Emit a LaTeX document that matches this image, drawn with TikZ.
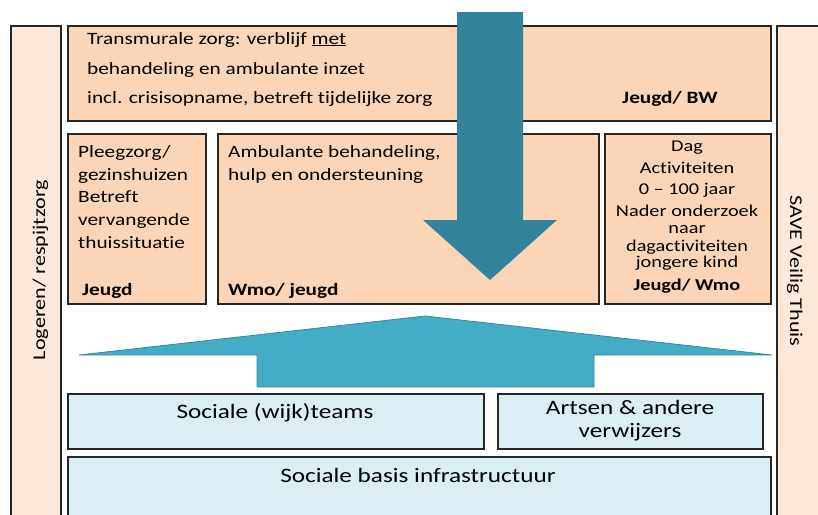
\documentclass[tikz,border=0pt]{standalone}
\usepackage{fontspec}
\setmainfont{Carlito}[FakeStretch=1.23, Ligatures=NoCommon]
\definecolor{peach}{HTML}{FBD5B5}
\definecolor{lightpeach}{HTML}{FDE9D9}
\definecolor{lightblue}{HTML}{DBEEF3}
\definecolor{darkaqua}{HTML}{31849B}
\definecolor{aqua}{HTML}{43ACC7}
\definecolor{aquaedge}{HTML}{35889E}
\begin{document}
\begin{tikzpicture}[x=1pt,y=-1pt,
  box/.style={draw=black!85, line width=1.8pt, rectangle, inner sep=0pt, anchor=north west},
  txt/.style={inner sep=0pt, font=\fontsize{17.3}{20}\selectfont},
  stxt/.style={inner sep=0pt, font=\fontsize{16.5}{18}\selectfont},
  btxt/.style={inner sep=0pt, font=\fontsize{20.5}{24}\selectfont}]
\useasboundingbox (0,0) rectangle (818,514);
\begin{scope}
\clip (0,0) rectangle (818,514);
% side bars
\node[box, fill=lightpeach, minimum width=50pt, minimum height=520pt] (leftbar) at (10,25) {};
\node[box, fill=lightpeach, minimum width=70pt, minimum height=520pt] (rightbar) at (776,25) {};
% top box
\node[box, fill=peach, minimum width=703pt, minimum height=95pt] (top) at (67,25) {};
% middle boxes
\node[box, fill=peach, minimum width=138pt, minimum height=170pt] (m1) at (67,133) {};
\node[box, fill=peach, minimum width=381pt, minimum height=170pt] (m2) at (217,133) {};
\node[box, fill=peach, minimum width=166pt, minimum height=170pt] (m3) at (604,133) {};
% bottom boxes
\node[box, fill=lightblue, minimum width=416pt, minimum height=55pt] (b1) at (67,393) {};
\node[box, fill=lightblue, minimum width=265pt, minimum height=55pt] (b2) at (497,393) {};
\node[box, fill=lightblue, minimum width=703pt, minimum height=80pt] (b3) at (67,456) {};
\end{scope}
% down arrow
\fill[darkaqua] (457,12) -- (523,12) -- (523,220) -- (557,220) -- (490,280) -- (423,220) -- (457,220) -- cycle;
% up arrow
\filldraw[fill=aqua, draw=aquaedge, line width=0.8pt] (425,316) -- (772,355) -- (594,355) -- (594,387) -- (257,387) -- (257,355) -- (79,355) -- cycle;
% texts top
\node[txt, anchor=base west] (t1) at (87,44) {Transmurale zorg: verblijf \underline{met}};
\node[txt, anchor=base west] (t2) at (87,74) {behandeling en ambulante inzet};
\node[txt, anchor=base west] (t3) at (87,103) {incl. crisisopname, betreft tijdelijke zorg};
\node[txt, anchor=base west, font=\fontsize{17.3}{20}\selectfont\bfseries] (t4) at (622,103) {Jeugd/ BW};
% box 1
\node[txt, anchor=base west] (p1) at (78,157) {Pleegzorg/};
\node[txt, anchor=base west] (p2) at (78,180) {gezinshuizen};
\node[txt, anchor=base west] (p3) at (78,202) {Betreft};
\node[txt, anchor=base west] (p4) at (78,225) {vervangende};
\node[txt, anchor=base west] (p5) at (78,248) {thuissituatie};
\node[txt, anchor=base west, font=\fontsize{17.3}{20}\selectfont\bfseries] (p6) at (82,295) {Jeugd};
% box 2
\node[txt, anchor=base west] (a1) at (228,157) {Ambulante behandeling,};
\node[txt, anchor=base west] (a2) at (228,180) {hulp en ondersteuning};
\node[txt, anchor=base west, font=\fontsize{17.3}{20}\selectfont\bfseries] (a3) at (228,295) {Wmo/ jeugd};
% box 3
\node[stxt, anchor=base] (d1) at (687,151) {Dag};
\node[stxt, anchor=base] (d2) at (687,173) {Activiteiten};
\node[stxt, anchor=base] (d3) at (687,194) {0 – 100 jaar};
\node[stxt, anchor=base] (d4) at (687,216) {Nader onderzoek};
\node[stxt, anchor=base] (d5) at (687,233) {naar};
\node[stxt, anchor=base] (d6) at (687,251) {dagactiviteiten};
\node[stxt, anchor=base] (d7) at (687,267) {jongere kind};
\node[stxt, anchor=base, font=\fontsize{16.5}{18}\selectfont\bfseries] (d8) at (687,290) {Jeugd/ Wmo};
% bottom texts
\node[btxt, anchor=base] (s1) at (275,418) {Sociale (wijk)teams};
\node[btxt, anchor=base] (s2) at (630,414) {Artsen \& andere};
\node[btxt, anchor=base] (s3) at (630,437) {verwijzers};
\node[btxt, anchor=base] (s4) at (418,482) {Sociale basis infrastructuur};
% side texts
\node[txt, rotate=90, anchor=base, font=\fontsize{18}{20}\selectfont] (l1) at (45,270) {Logeren/ respijtzorg};
\node[txt, rotate=-90, anchor=base, font=\fontsize{18}{20}\selectfont] (r1) at (790,271) {SAVE Veilig Thuis};
\end{tikzpicture}
\end{document}
